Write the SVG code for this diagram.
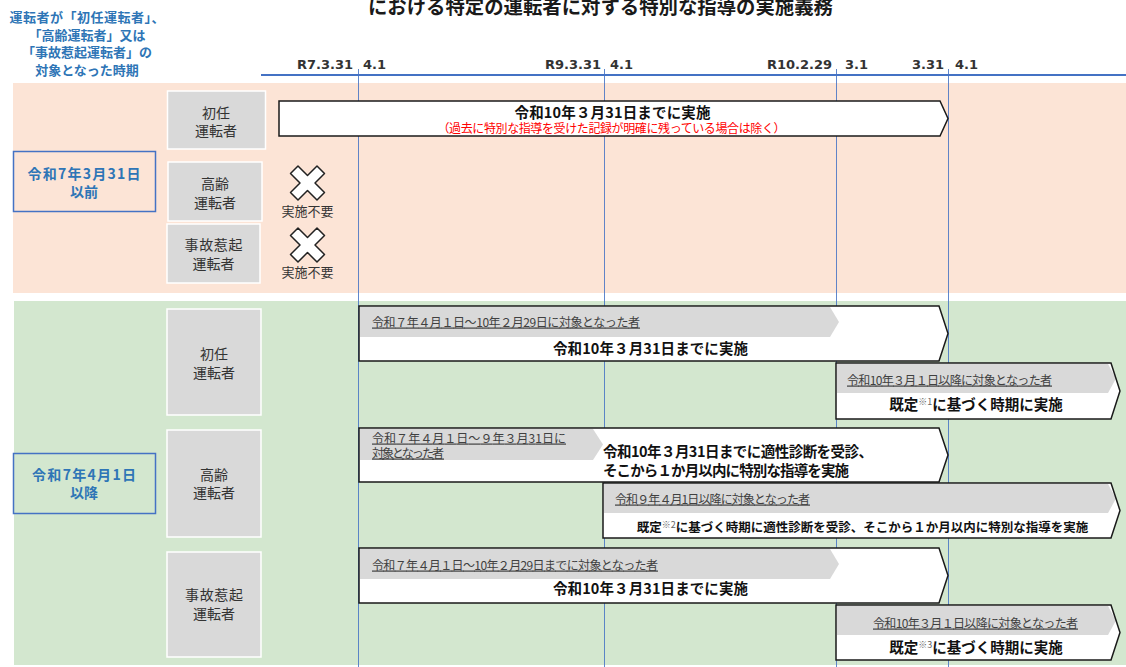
<svg xmlns="http://www.w3.org/2000/svg" xmlns:xlink="http://www.w3.org/1999/xlink" width="1126" height="667" viewBox="0 0 1126 667">
<style>
  text{font-family:"Noto Sans CJK JP","Noto Sans",sans-serif}
  .title{font-size:19.5px;font-weight:bold;fill:#1a1a1a}
  .hdr{font-size:13px;font-weight:bold;fill:#2E75B6;text-anchor:middle}
  .tl{font-family:"DejaVu Sans",Verdana,sans-serif;font-weight:bold;font-size:13px;fill:#333}
  .axis{stroke:#4472C4;stroke-width:2;fill:none}
  .vline{stroke:#4472C4;stroke-width:1;fill:none;opacity:.85}
  .cat{fill:#D9D9D9;stroke:#fff;stroke-width:1.5}
  .catt{font-size:14px;fill:#333;text-anchor:middle}
  .per{fill:none;stroke:#4472C4;stroke-width:1.5}
  .pert{font-size:14px;font-weight:bold;fill:#2E75B6;text-anchor:middle}
  .af{fill:#fff}
  .ao{fill:none;stroke:#1a1a1a;stroke-width:1.5}
  .band{fill:#D9D9D9}
  .sub{font-size:12px;fill:#404040;text-decoration:underline}
  .main{font-size:14.5px;font-weight:bold;fill:#111}
  .mid{text-anchor:middle}
  .sup{font-size:9px;font-weight:normal;fill:#666}
  .red{font-size:12px;fill:#FF0000;text-anchor:middle}
  .xm{fill:#fff;stroke:#222;stroke-width:1.5;stroke-linejoin:round}
  .na{font-size:13px;fill:#333;text-anchor:middle}
</style>
<defs>
  <path id="xmark" d="M-17 -9.5 L-9.5 -17 L0 -7.5 L9.5 -17 L17 -9.5 L7.5 0 L17 9.5 L9.5 17 L0 7.5 L-9.5 17 L-17 9.5 L-7.5 0 Z"/>
</defs>

<rect x="0" y="0" width="1126" height="667" fill="#fff"/>

<!-- backgrounds -->
<rect id="bg-before" x="13" y="83" width="1113" height="210" fill="#FCE4D6"/>
<rect id="bg-after" x="14" y="301" width="1112" height="364" fill="#D3E7CF"/>

<!-- title (partially cut at top, as in the picture) -->
<text class="title" x="368" y="14" textLength="465" lengthAdjust="spacingAndGlyphs">における特定の運転者に対する特別な指導の実施義務</text>

<!-- header -->
<g id="header">
  <text class="hdr" x="87" y="22" textLength="155">運転者が「初任運転者」、</text>
  <text class="hdr" x="87" y="39.5">「高齢運転者」又は</text>
  <text class="hdr" x="87" y="57">「事故惹起運転者」の</text>
  <text class="hdr" x="87" y="74.5">対象となった時期</text>
</g>

<!-- timeline axis and vertical lines -->
<g id="connectors">
  <line class="axis" x1="261" y1="75" x2="1126" y2="75"/>
  <line class="vline" x1="358.5" y1="69" x2="358.5" y2="667"/>
  <line class="vline" x1="604.5" y1="69" x2="604.5" y2="667"/>
  <line class="vline" x1="836.5" y1="69" x2="836.5" y2="667"/>
  <line class="vline" x1="948.5" y1="69" x2="948.5" y2="667"/>
</g>

<g id="timeline-labels">
  <text class="tl" x="353" y="68.5" text-anchor="end">R7.3.31</text>
  <text class="tl" x="363" y="68.5">4.1</text>
  <text class="tl" x="601" y="68.5" text-anchor="end">R9.3.31</text>
  <text class="tl" x="610" y="68.5">4.1</text>
  <text class="tl" x="832" y="68.5" text-anchor="end">R10.2.29</text>
  <text class="tl" x="845" y="68.5">3.1</text>
  <text class="tl" x="944" y="68.5" text-anchor="end">3.31</text>
  <text class="tl" x="955" y="68.5">4.1</text>
</g>

<!-- period boxes -->
<g id="period-before">
  <rect class="per" x="13.5" y="151.5" width="142" height="60"/>
  <text class="pert" x="84" y="178.5" textLength="113">令和7年3月31日</text>
  <text class="pert" x="84" y="197">以前</text>
</g>
<g id="period-after">
  <rect class="per" x="13.5" y="453.5" width="142" height="60"/>
  <text class="pert" x="84" y="480" textLength="104">令和7年4月1日</text>
  <text class="pert" x="84" y="497.5">以降</text>
</g>

<!-- category boxes (before) -->
<g id="cat-b-shonin">
  <rect class="cat" x="167.5" y="91" width="98" height="58"/>
  <text class="catt" x="216" y="117.5">初任</text>
  <text class="catt" x="216" y="136">運転者</text>
</g>
<g id="cat-b-korei">
  <rect class="cat" x="168" y="162" width="94" height="59"/>
  <text class="catt" x="215" y="188.5">高齢</text>
  <text class="catt" x="215" y="207.5">運転者</text>
</g>
<g id="cat-b-jiko">
  <rect class="cat" x="167" y="224" width="93" height="59"/>
  <text class="catt" x="213.5" y="250" textLength="58">事故惹起</text>
  <text class="catt" x="213.5" y="268.5">運転者</text>
</g>

<!-- category boxes (after) -->
<g id="cat-a-shonin">
  <rect class="cat" x="167" y="309" width="94" height="106"/>
  <text class="catt" x="214" y="358.5">初任</text>
  <text class="catt" x="214" y="377.5">運転者</text>
</g>
<g id="cat-a-korei">
  <rect class="cat" x="167" y="430" width="94" height="107"/>
  <text class="catt" x="214" y="479.5">高齢</text>
  <text class="catt" x="214" y="498">運転者</text>
</g>
<g id="cat-a-jiko">
  <rect class="cat" x="167" y="552" width="94" height="105"/>
  <text class="catt" x="214" y="600" textLength="58">事故惹起</text>
  <text class="catt" x="214" y="618.5">運転者</text>
</g>

<!-- not required marks -->
<g id="na-korei">
  <use xlink:href="#xmark" href="#xmark" class="xm" x="307.5" y="183"/>
  <text class="na" x="307.5" y="215.5">実施不要</text>
</g>
<g id="na-jiko">
  <use xlink:href="#xmark" href="#xmark" class="xm" x="307.5" y="245"/>
  <text class="na" x="307.5" y="276.5">実施不要</text>
</g>

<!-- arrow: before / shonin -->
<g id="arrow-b-shonin">
  <path class="af" d="M279 101 H940 L948 118.5 L940 136 H279 Z"/>
  <path class="ao" d="M279 101 H940 L948 118.5 L940 136 H279 Z"/>
  <text class="main mid" x="612.5" y="117.5" textLength="196">令和10年３月31日までに実施</text>
  <text class="red" x="611.5" y="132.5" textLength="348">（過去に特別な指導を受けた記録が明確に残っている場合は除く）</text>
</g>

<!-- arrow A1 -->
<g id="arrow-a-shonin-1">
  <path class="af" d="M359 306 H939 L948 333.5 L939 361 H359 Z"/>
  <path class="band" d="M360 307 H830 L839 322 L830 337 H360 Z"/>
  <path class="ao" d="M359 306 H939 L948 333.5 L939 361 H359 Z"/>
  <text class="sub" x="372" y="326.5" textLength="268">令和７年４月１日～10年２月29日に対象となった者</text>
  <text class="main mid" x="650.5" y="353.5" textLength="195">令和10年３月31日までに実施</text>
</g>

<!-- arrow A2 -->
<g id="arrow-a-shonin-2">
  <path class="af" d="M836 363 H1111 L1120 391 L1111 419 H836 Z"/>
  <path class="band" d="M837 364 H1108 L1116 378.5 L1108 393 H837 Z"/>
  <path class="ao" d="M836 363 H1111 L1120 391 L1111 419 H836 Z"/>
  <text class="sub" x="847" y="384.5" textLength="205">令和10年３月１日以降に対象となった者</text>
  <text class="main mid" x="976" y="409.5">既定<tspan class="sup" dy="-5">※1</tspan><tspan dy="5">に基づく時期に実施</tspan></text>
</g>

<!-- arrow A3 -->
<g id="arrow-a-korei-1">
  <path class="af" d="M359 428 H939 L948 455 L939 482 H359 Z"/>
  <path class="band" d="M360 429 H593 L603 444.5 L593 460 H360 Z"/>
  <path class="ao" d="M359 428 H939 L948 455 L939 482 H359 Z"/>
  <text class="sub" x="372" y="442.5" textLength="194">令和７年４月１日～９年３月31日に</text>
  <text class="sub" x="372" y="457.5" textLength="72">対象となった者</text>
  <text class="main" x="603" y="457" textLength="270">令和10年３月31日までに適性診断を受診、</text>
  <text class="main" x="603" y="475.5" textLength="246">そこから１か月以内に特別な指導を実施</text>
</g>

<!-- arrow A4 -->
<g id="arrow-a-korei-2">
  <path class="af" d="M603 483 H1111 L1120 510.5 L1111 538 H603 Z"/>
  <path class="band" d="M604 484 H1108 L1116 498.5 L1108 513 H604 Z"/>
  <path class="ao" d="M603 483 H1111 L1120 510.5 L1111 538 H603 Z"/>
  <text class="sub" x="615" y="503.5" textLength="195">令和９年４月1日以降に対象となった者</text>
  <text class="main mid" x="862.5" y="532" style="font-size:12.5px">既定<tspan class="sup" dy="-4.5">※2</tspan><tspan dy="4.5">に基づく時期に適性診断を受診、そこから１か月以内に特別な指導を実施</tspan></text>
</g>

<!-- arrow A5 -->
<g id="arrow-a-jiko-1">
  <path class="af" d="M359 548 H939 L948 575.5 L939 603 H359 Z"/>
  <path class="band" d="M360 549 H830 L839 564 L830 579 H360 Z"/>
  <path class="ao" d="M359 548 H939 L948 575.5 L939 603 H359 Z"/>
  <text class="sub" x="372" y="569.5" textLength="286">令和７年４月１日～10年２月29日までに対象となった者</text>
  <text class="main mid" x="650.5" y="593.5" textLength="195">令和10年３月31日までに実施</text>
</g>

<!-- arrow A6 -->
<g id="arrow-a-jiko-2">
  <path class="af" d="M836 605 H1111 L1120 632.5 L1111 660 H836 Z"/>
  <path class="band" d="M837 606 H1108 L1116 620.5 L1108 635 H837 Z"/>
  <path class="ao" d="M836 605 H1111 L1120 632.5 L1111 660 H836 Z"/>
  <text class="sub" x="873" y="627.5" textLength="205">令和10年３月１日以降に対象となった者</text>
  <text class="main mid" x="976" y="652.5">既定<tspan class="sup" dy="-5">※3</tspan><tspan dy="5">に基づく時期に実施</tspan></text>
</g>
</svg>
